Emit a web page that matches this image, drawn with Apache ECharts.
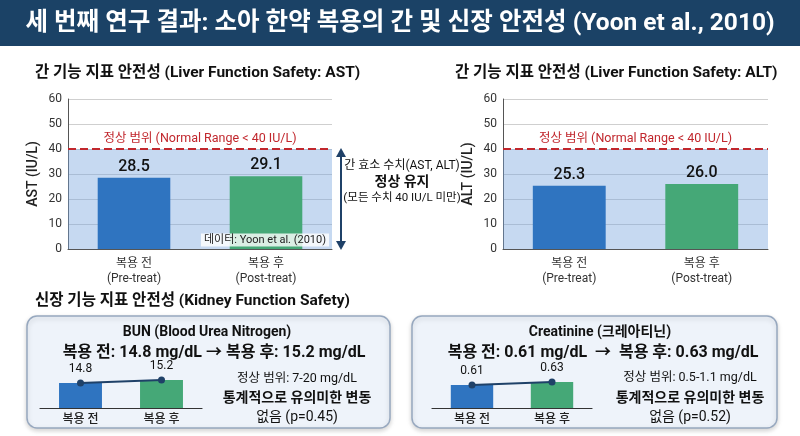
<!DOCTYPE html>
<html>
<head>
<meta charset="utf-8">
<script src="https://cdn.jsdelivr.net/npm/echarts@6/dist/echarts.min.js"></script>
<style>
  html, body { margin: 0; padding: 0; background: #fff; }
  #main { width: 800px; height: 436px; }
</style>
</head>
<body>
<div id="main"></div>
<script>
// 데이터
var categories = ['복용 전\n(Pre-treat)', '복용 후\n(Post-treat)'];
var astValues = [28.5, 29.1];
var altValues = [25.3, 26.0];
var miniCategories = ['복용 전', '복용 후'];
var bunValues = [14.8, 15.2];
var creatValues = [0.61, 0.63];
var normalLimit = 40;

var FONT = "Roboto, 'Noto Sans CJK KR', sans-serif";
var barColors = ['#2f74c0', '#45a877'];
var navy = '#1f4168';

function barData(values) {
  return values.map(function (v, i) {
    return { value: v, itemStyle: { color: barColors[i] } };
  });
}

function bigXAxis(idx) {
  return {
    type: 'category', gridIndex: idx, data: categories,
    axisLine: { lineStyle: { color: '#555', width: 1 } },
    axisTick: { show: false },
    axisLabel: { fontFamily: FONT, fontSize: 12, color: '#333', lineHeight: 15, margin: 7 }
  };
}
function bigYAxis(idx, name) {
  return {
    type: 'value', gridIndex: idx, min: 0, max: 60, interval: 10,
    name: name, nameLocation: 'middle', nameGap: 28, nameRotate: 90,
    nameTextStyle: { fontFamily: FONT, fontSize: 14, color: '#222', fontWeight: 500 },
    axisLine: { show: true, lineStyle: { color: '#555' } },
    axisTick: { show: false },
    axisLabel: { fontFamily: FONT, fontSize: 12, color: '#333', margin: 6 },
    splitLine: { lineStyle: { color: '#cfcfcf' } }
  };
}
function bigSeries(idx, values) {
  return {
    type: 'bar', xAxisIndex: idx, yAxisIndex: idx, barWidth: '55%',
    data: barData(values),
    label: { show: true, position: 'top', distance: 3, fontFamily: FONT, fontSize: 16, color: '#111', fontWeight: 500,
      formatter: function (p) { return p.value.toFixed(1); } },
    markArea: { silent: true, itemStyle: { color: 'rgba(120,165,222,0.42)' },
      data: [[{ yAxis: 0 }, { yAxis: normalLimit }]] },
    markLine: { silent: true, symbol: 'none',
      lineStyle: { color: '#c1272d', type: 'dashed', width: 2 },
      label: { position: 'middle', formatter: '정상 범위 (Normal Range < ' + normalLimit + ' IU/L)',
        fontFamily: FONT, fontSize: 12.5, color: '#c1272d', distance: 4 },
      data: [{ yAxis: normalLimit }] }
  };
}

function miniXAxis(idx) {
  return {
    type: 'category', gridIndex: idx, data: miniCategories,
    axisLine: { lineStyle: { color: '#333', width: 1.2 } },
    axisTick: { show: false },
    axisLabel: { fontFamily: FONT, fontSize: 12, color: '#222', fontWeight: 500, margin: 6 }
  };
}
function miniYAxis(idx, mn, mx) {
  return { type: 'value', gridIndex: idx, min: mn, max: mx, show: false, splitLine: { show: false } };
}
function miniSeries(idx, values, digits) {
  return [{
    type: 'bar', xAxisIndex: idx, yAxisIndex: idx, barWidth: '53%',
    data: barData(values)
  }, {
    type: 'line', xAxisIndex: idx, yAxisIndex: idx, data: values,
    symbol: 'circle', symbolSize: 7,
    lineStyle: { color: navy, width: 2 }, itemStyle: { color: navy },
    label: { show: true, position: 'top', distance: 5, fontFamily: FONT, fontSize: 12, color: '#111',
      formatter: function (p) { return p.value.toFixed(digits); } }
  }];
}

function txt(x, y, text, size, weight, color, align) {
  return { type: 'text', x: x, y: y, z: 10, style: {
    text: text, fontFamily: FONT, fontSize: size, fontWeight: weight || 'normal',
    fill: color || '#222', align: align || 'center', verticalAlign: 'middle' } };
}
function box(x, y, w, h) {
  return { type: 'rect', z: 0, shape: { x: x, y: y, width: w, height: h, r: 10 },
    style: { fill: '#eef3fa', stroke: '#97a8bf', lineWidth: 1.5,
      shadowBlur: 5, shadowColor: 'rgba(0,0,0,0.18)', shadowOffsetY: 2 } };
}

var chart = echarts.init(document.getElementById('main'));
chart.setOption({
  animation: false,
  grid: [
    { left: 68, top: 99, width: 264, height: 150 },
    { left: 503, top: 99, width: 265, height: 150 },
    { left: 40, top: 368, width: 162, height: 40 },
    { left: 432, top: 368, width: 160, height: 40 }
  ],
  xAxis: [bigXAxis(0), bigXAxis(1), miniXAxis(2), miniXAxis(3)],
  yAxis: [bigYAxis(0, 'AST (IU/L)'), bigYAxis(1, 'ALT (IU/L)'),
    miniYAxis(2, 11.5, 16.8), miniYAxis(3, 0.457, 0.724)],
  series: [bigSeries(0, astValues), bigSeries(1, altValues)]
    .concat(miniSeries(2, bunValues, 1), miniSeries(3, creatValues, 2)),
  graphic: [
    { type: 'rect', z: 0, shape: { x: 0, y: 0, width: 800, height: 46 }, style: { fill: '#1b4266' } },
    txt(400, 24, '세 번째 연구 결과: 소아 한약 복용의 간 및 신장 안전성 (Yoon et al., 2010)', 24.5, 'bold', '#fff'),
    txt(35, 73, '간 기능 지표 안전성 (Liver Function Safety: AST)', 15.5, 'bold', '#111', 'left'),
    txt(455, 73, '간 기능 지표 안전성 (Liver Function Safety: ALT)', 15.5, 'bold', '#111', 'left'),
    txt(35, 301, '신장 기능 지표 안전성 (Kidney Function Safety)', 15.5, 'bold', '#111', 'left'),
    // 데이터 출처
    { type: 'text', x: 265, y: 240, z: 10, style: {
      text: '데이터: Yoon et al. (2010)', fontFamily: FONT, fontSize: 11, fill: '#222',
      align: 'center', verticalAlign: 'middle', backgroundColor: 'rgba(255,255,255,0.8)', padding: [1, 3] } },
    // 화살표
    { type: 'line', z: 10, shape: { x1: 341, y1: 154, x2: 341, y2: 244 }, style: { stroke: navy, lineWidth: 2 } },
    { type: 'polygon', z: 10, shape: { points: [[341, 148], [336, 157], [346, 157]] }, style: { fill: navy } },
    { type: 'polygon', z: 10, shape: { points: [[341, 250], [336, 241], [346, 241]] }, style: { fill: navy } },
    txt(402, 166, '간 효소 수치(AST, ALT)', 12, 'normal', '#111'),
    txt(402, 182, '정상 유지', 14, 'bold', '#111'),
    txt(402, 198, '(모든 수치 40 IU/L 미만)', 11.5, 'normal', '#111'),
    // 신장 박스
    box(27, 316, 363, 112),
    box(412, 316, 365, 112),
    txt(207, 332, 'BUN (Blood Urea Nitrogen)', 14, 'bold', '#111'),
    txt(214, 353, '복용 전: ' + bunValues[0] + ' mg/dL → 복용 후: ' + bunValues[1] + ' mg/dL', 16, 'bold', '#111'),
    txt(297, 379, '정상 범위: 7-20 mg/dL', 12.5, 'normal', '#111'),
    txt(297, 398, '통계적으로 유의미한 변동', 14, 'bold', '#111'),
    txt(297, 417, '없음 (p=0.45)', 14, 'normal', '#111'),
    txt(600, 332, 'Creatinine (크레아티닌)', 14, 'bold', '#111'),
    txt(603, 353, '복용 전: ' + creatValues[0].toFixed(2) + ' mg/dL  →  복용 후: ' + creatValues[1].toFixed(2) + ' mg/dL', 16, 'bold', '#111'),
    txt(690, 378, '정상 범위: 0.5-1.1 mg/dL', 12.5, 'normal', '#111'),
    txt(690, 398, '통계적으로 유의미한 변동', 14, 'bold', '#111'),
    txt(690, 417, '없음 (p=0.52)', 14, 'normal', '#111')
  ]
});
</script>
</body>
</html>
